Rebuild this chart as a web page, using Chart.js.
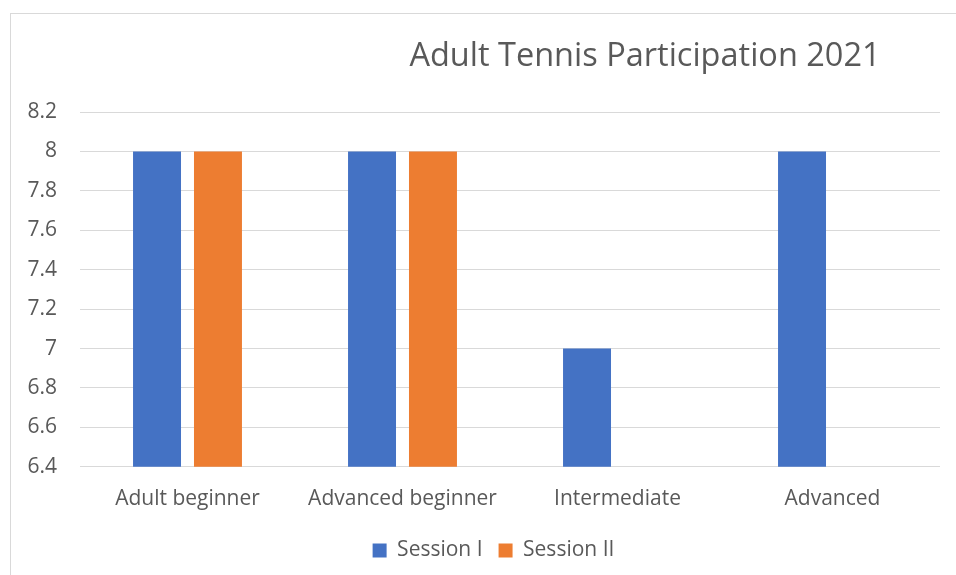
<!DOCTYPE html>
<html>
<head>
<meta charset="utf-8">
<script src="https://cdn.jsdelivr.net/npm/chart.js@4"></script>
<style>
  html, body { margin: 0; padding: 0; background: #fff; overflow: hidden; }
  #frame { position: absolute; left: 10px; top: 13px; width: 945px; height: 561px;
           border-left: 1px solid #d9d9d9; border-top: 1px solid #d9d9d9; }
  canvas { display: block; }
</style>
</head>
<body>
<div id="frame"><canvas id="c" width="945" height="561"></canvas></div>
<script>
const chartTitle = "Adult Tennis Participation 2021";
const categories = ["Adult beginner", "Advanced beginner", "Intermediate", "Advanced"];
const seriesNames = ["Session I", "Session II"];
const session1 = [8, 8, 7, 8];
const session2 = [8, 8, null, null];
const yTicks = [6.4, 6.6, 6.8, 7, 7.2, 7.4, 7.6, 7.8, 8, 8.2];

const FONT = "'Open Sans', 'Liberation Sans', sans-serif";
const GRAY = "#595959";

const layoutShift = {
  id: 'layoutShift',
  afterLayout(chart) {
    const tb = chart.titleBlock;
    if (tb) { const cx = 634, hw = 300; tb.left = cx - hw; tb.right = cx + hw; }
    const lg = chart.legend;
    if (lg) { lg.left += 18; lg.right += 18; }
  }
};

new Chart(document.getElementById('c'), {
  type: 'bar',
  data: {
    labels: categories,
    datasets: [
      { label: seriesNames[0], data: session1, backgroundColor: '#4472C4' },
      { label: seriesNames[1], data: session2, backgroundColor: '#ED7D31' }
    ]
  },
  options: {
    responsive: false,
    animation: false,
    layout: { padding: { left: 0, right: 16, top: 0, bottom: 4 } },
    datasets: { bar: { categoryPercentage: 0.567, barPercentage: 0.787 } },
    plugins: {
      title: {
        display: true, text: chartTitle, color: GRAY,
        font: { family: FONT, size: 32.5, weight: 'normal' },
        padding: { top: 23, bottom: 36 }
      },
      legend: {
        position: 'bottom',
        labels: { color: GRAY, font: { family: FONT, size: 21 }, boxWidth: 14, boxHeight: 14, padding: 16 }
      },
      tooltip: { enabled: false }
    },
    scales: {
      x: {
        grid: { display: false },
        border: { display: false },
        ticks: { color: GRAY, font: { family: FONT, size: 21 }, padding: 12, maxRotation: 0 }
      },
      y: {
        min: yTicks[0], max: yTicks[yTicks.length - 1],
        afterBuildTicks(scale) { scale.ticks = yTicks.map(v => ({ value: v })); },
        afterFit(scale) { scale.width = 69; },
        grid: { color: '#D9D9D9', lineWidth: 1, drawTicks: false },
        border: { display: false },
        ticks: { color: GRAY, font: { family: FONT, size: 21 }, padding: 23,
                 callback: v => String(Math.round(v * 10) / 10) }
      }
    }
  },
  plugins: [layoutShift]
});
</script>
</body>
</html>
